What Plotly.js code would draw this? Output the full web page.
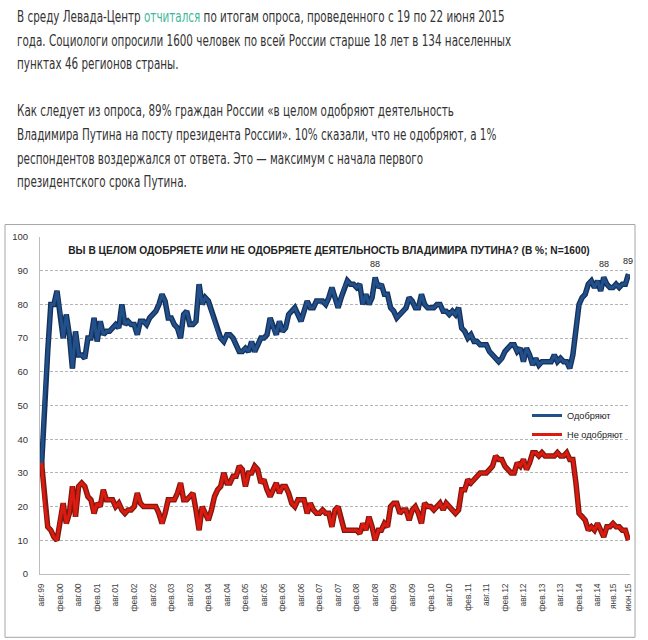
<!DOCTYPE html>
<html>
<head>
<meta charset="utf-8">
<script src="https://cdn.plot.ly/plotly-3.0.1.min.js"></script>
<style>
  html, body { margin: 0; padding: 0; background: #ffffff; width: 648px; height: 640px; overflow: hidden; }
  #chart { position: absolute; left: 0; top: 0; width: 648px; height: 640px; }
  #text { position: absolute; left: 17px; top: 6px; z-index: 2; font-family: "DejaVu Sans", sans-serif; font-stretch: condensed; font-size: 15px; line-height: 23.6px; color: #333; white-space: nowrap; transform: scaleX(0.77); transform-origin: 0 0; }
  #text p { margin: 0 0 23.6px 0; }
  #text a { color: #3fb79a; text-decoration: none; }
</style>
</head>
<body>
<div id="text">
<p>В среду Левада-Центр <a>отчитался</a> по итогам опроса, проведенного с 19 по 22 июня 2015<br>года. Социологи опросили 1600 человек по всей России старше 18 лет в 134 населенных<br>пунктах 46 регионов страны.</p>
<p>Как следует из опроса, 89% граждан России «в целом одобряют деятельность<br>Владимира Путина на посту президента России». 10% сказали, что не одобряют, а 1%<br>респондентов воздержался от ответа. Это — максимум с начала первого<br>президентского срока Путина.</p>
</div>
<div id="chart"></div>
<script>
// Monthly survey values, авг.1999 … июн.2015 (191 months)
const approve = [
32,53,66,80,80,84,78,70,77,71,
61,72,65,65,64,70,70,76,69,75,
71,72,72,73,74,73,80,74,75,74,
74,71,75,75,74,76,77,78,80,83,
81,76,76,74,73,70,77,78,74,74,
75,86,80,82,81,78,75,72,70,69,
71,71,70,68,66,66,67,66,69,66,
68,70,70,71,76,73,71,75,72,73,
77,78,79,77,75,78,81,79,79,81,
81,81,80,82,85,82,79,82,85,87,
86,86,85,86,80,83,80,82,88,85,
86,83,83,79,78,76,77,78,79,82,
81,79,79,83,80,79,79,79,80,80,
78,78,77,78,77,79,73,72,70,71,
69,69,68,68,68,66,65,64,63,64,
66,67,68,68,66,67,63,67,65,62,
64,62,63,63,63,63,65,63,64,63,
63,61,65,72,80,82,83,86,87,85,
87,84,88,86,85,85,86,85,86,86,
89];
const disapprove = [
33,21,14,13,11,10,16,21,15,18,
26,17,26,27,26,23,22,18,21,20,
25,22,22,22,20,21,19,18,19,19,
20,24,21,20,20,20,20,20,18,15,
18,22,22,22,24,27,22,22,23,24,
19,13,20,18,16,19,23,25,26,30,
27,27,29,29,32,31,26,30,30,32,
31,27,28,25,23,25,27,24,26,26,
24,21,20,22,22,22,18,21,19,18,
18,19,18,18,14,19,20,16,13,13,
13,13,13,12,15,13,17,14,10,13,
13,15,14,20,21,21,18,19,19,16,
19,20,18,15,21,20,20,19,20,21,
19,21,20,19,18,19,25,25,28,27,
28,29,30,30,30,31,32,35,34,34,
32,31,30,30,33,32,34,31,33,36,
36,35,36,35,35,35,35,36,35,35,
36,34,34,27,18,17,16,13,14,13,
15,13,11,14,14,15,14,14,13,13,
10];
const tickPos = [0,6,12,18,24,30,36,42,48,54,60,66,72,78,84,90,96,102,108,114,120,126,132,138,144,150,156,162,168,174,180,185,190];
const tickLabels = ['авг.99','фев.00','авг.00','фев.01','авг.01','фев.02','авг.02','фев.03','авг.03','фев.04','авг.04','фев.05','авг.05','фев.06','авг.06','фев.07','авг.07','фев.08','авг.08','фев.09','авг.09','фев.10','авг.10','фев.11','авг.11','фев.12','авг.12','фев.13','авг.13','фев.14','авг.14','янв.15','июн.15'];
const seriesNames = ['Одобряют', 'Не одобряют'];
const labelIdx = [108, 182, 190];
const chartTitle = 'ВЫ В ЦЕЛОМ ОДОБРЯЕТЕ ИЛИ НЕ ОДОБРЯЕТЕ ДЕЯТЕЛЬНОСТЬ ВЛАДИМИРА ПУТИНА? (В %; N=1600)';

const xIdx = approve.map((_, i) => i);
const FONT = '"Liberation Sans", Arial, sans-serif';

const traces = [
  { x: xIdx, y: approve, type: 'scatter', mode: 'lines', showlegend: false,
    line: { color: '#15305a', width: 5.5 }, hoverinfo: 'skip' },
  { x: xIdx, y: disapprove, type: 'scatter', mode: 'lines', showlegend: false,
    line: { color: '#7c1a10', width: 5.5 }, hoverinfo: 'skip' },
  { x: xIdx, y: approve, name: seriesNames[0], type: 'scatter', mode: 'lines',
    line: { color: '#22508a', width: 3 }, hoverinfo: 'skip' },
  { x: xIdx, y: disapprove, name: seriesNames[1], type: 'scatter', mode: 'lines',
    line: { color: '#dc1a10', width: 3 }, hoverinfo: 'skip' }
];

const L = 40, R = 630, T = 236.5, B = 574.5;
const pw = R - L, ph = B - T;
const px = v => (v - L) / pw;
const py = v => (B - v) / ph;

const layout = {
  width: 648, height: 640,
  margin: { l: L, r: 648 - R, t: T, b: 640 - B, pad: 0 },
  paper_bgcolor: 'rgba(0,0,0,0)',
  plot_bgcolor: 'rgba(0,0,0,0)',
  font: { family: FONT, color: '#333' },
  title: { text: '<b>' + chartTitle + '</b>', font: { family: FONT, size: 10.2, color: '#222' },
           x: 329 / 648, xanchor: 'center', y: 1 - 250 / 640, yanchor: 'middle' },
  xaxis: {
    range: [-0.5, 190.5], tickmode: 'array', tickvals: tickPos, ticktext: tickLabels,
    tickangle: -90, tickfont: { size: 8.5, color: '#444', family: FONT },
    showgrid: false, zeroline: false, showline: true, linecolor: '#bdbdbd', linewidth: 1,
    ticks: '', ticklabelstandoff: 5, fixedrange: true
  },
  yaxis: {
    range: [0, 100], dtick: 10, tick0: 0, tickfont: { size: 9.5, color: '#333', family: FONT },
    showgrid: true, gridcolor: '#b5b5b5', griddash: '3px,2px', gridwidth: 1,
    zeroline: false, showline: true, linecolor: '#bdbdbd', linewidth: 1,
    ticks: '', ticklabelstandoff: 9, fixedrange: true
  },
  showlegend: true,
  legend: { x: px(527), y: py(401), xanchor: 'left', yanchor: 'top', bgcolor: 'rgba(0,0,0,0)',
            font: { size: 9.2, color: '#222', family: FONT }, itemwidth: 30, tracegroupgap: 0 },
  annotations: labelIdx.map(i => ({
    x: i, y: approve[i], xref: 'x', yref: 'y', text: String(approve[i]), showarrow: false,
    yanchor: 'bottom', yshift: 6, font: { size: 9, color: '#222', family: FONT }
  })),
  shapes: [
    { type: 'rect', xref: 'paper', yref: 'paper', layer: 'below',
      x0: px(5), x1: px(635), y0: py(638), y1: py(224),
      line: { color: '#a6a6a6', width: 1 }, fillcolor: 'rgba(0,0,0,0)' }
  ]
};

Plotly.newPlot('chart', traces, layout, { displayModeBar: false, staticPlot: true });
</script>
</body>
</html>
